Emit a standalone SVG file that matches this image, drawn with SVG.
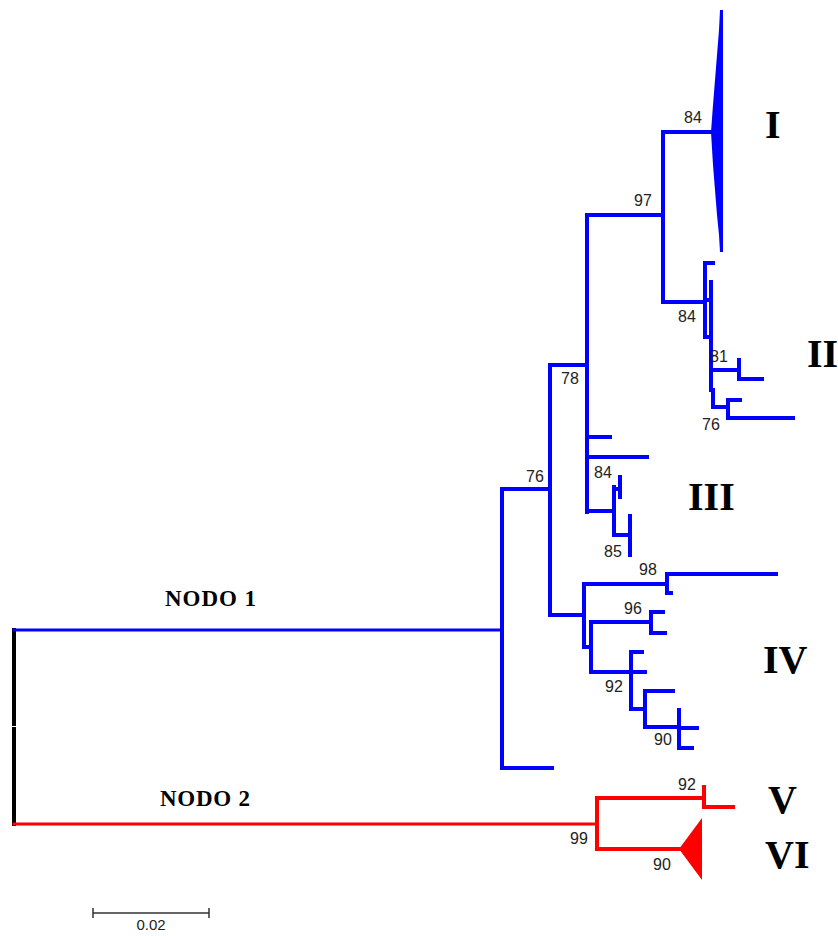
<svg xmlns="http://www.w3.org/2000/svg" width="838" height="936" viewBox="0 0 838 936">
<style>
.b{stroke:#0000ff;stroke-width:4;fill:none;stroke-linecap:square}
.r{stroke:#ff0000;stroke-width:4;fill:none;stroke-linecap:square}
.k{stroke:#000;stroke-width:4;fill:none}
.bs{font-family:"Liberation Sans",Arial,sans-serif;font-size:16px;fill:#222}
.rn{font-family:"Liberation Serif","Times New Roman",serif;font-size:40px;font-weight:bold;fill:#000}
.nd{font-family:"Liberation Serif","Times New Roman",serif;font-size:23px;font-weight:bold;fill:#000}
</style>
<rect width="838" height="936" fill="#fff"/>
<g id="connectors">
<line class="k" x1="14" y1="628" x2="14" y2="726"/>
<line class="k" x1="14" y1="727" x2="14" y2="826"/>
<path class="b" style="stroke-width:3" d="M14 630H502"/>
<path class="r" style="stroke-width:3" d="M14 824H597"/>
<path class="b" d="M552 768H502V489H550M550 365V615H584M550 365H587V512M587 215V512M587 437H610M587 457H647M587 215H663V132H712M663 215V302H705"/>
<path class="b" d="M705 263V337H710M705 263H713M705 300H711M711 282V390M713 390V407M713 370H739M739 360V379H762M713 407H728M728 400V418H793M728 400H740"/>
<path class="b" d="M587 511H614V535H630M614 487V535M614 489H620M620 477V497M630 516V555"/>
<path class="b" d="M550 615H584M584 584V647H591M584 584H667M667 574V593H671M667 574H776M591 622V672H631M591 622H651M651 612V633H665M651 612H663M631 652V709H645M631 652H642M631 672H645M645 691V727H679M645 691H673M679 710V748H692M679 728H697"/>
<path class="r" d="M597 798V849H680M597 798H704V807H733M704 787V807"/>
</g>
<g id="clade-I"><polygon fill="#0000ff" points="720,10 723,10 723,252 720,252 719,235 717,215 715,190 713,165 711,132 713,105 715,80 717,55 719,30"/></g>
<g id="clade-VI"><polygon fill="#ff0000" points="679,849 702,818 702,880"/></g>
<g id="labels">
<text class="bs" x="693" y="123" text-anchor="middle">84</text>
<text class="bs" x="643" y="206" text-anchor="middle">97</text>
<text class="bs" x="687" y="322" text-anchor="middle">84</text>
<text class="bs" x="719" y="362" text-anchor="middle">81</text>
<text class="bs" x="711" y="430" text-anchor="middle">76</text>
<text class="bs" x="570" y="384" text-anchor="middle">78</text>
<text class="bs" x="535" y="482" text-anchor="middle">76</text>
<text class="bs" x="603" y="478" text-anchor="middle">84</text>
<text class="bs" x="613" y="557" text-anchor="middle">85</text>
<text class="bs" x="648" y="575" text-anchor="middle">98</text>
<text class="bs" x="633" y="614" text-anchor="middle">96</text>
<text class="bs" x="614" y="692" text-anchor="middle">92</text>
<text class="bs" x="663" y="745" text-anchor="middle">90</text>
<text class="bs" x="687" y="790" text-anchor="middle">92</text>
<text class="bs" x="579" y="844" text-anchor="middle">99</text>
<text class="bs" x="662" y="870" text-anchor="middle">90</text>
<text class="rn" x="765" y="138">I</text>
<text class="rn" x="807" y="367">II</text>
<text class="rn" x="688" y="510">III</text>
<text class="rn" x="763" y="673">IV</text>
<text class="rn" x="768" y="813">V</text>
<text class="rn" x="765" y="868">VI</text>
<text class="nd" x="165" y="606" textLength="91" lengthAdjust="spacing">NODO 1</text>
<text class="nd" x="160" y="806" textLength="90" lengthAdjust="spacing">NODO 2</text>
</g>
<g id="scale">
<path d="M93 913H209M93 908V918M209 908V918" stroke="#333" stroke-width="1.5" fill="none"/>
<text class="bs" x="151" y="930" text-anchor="middle" style="font-size:15px">0.02</text>
</g>
</svg>
